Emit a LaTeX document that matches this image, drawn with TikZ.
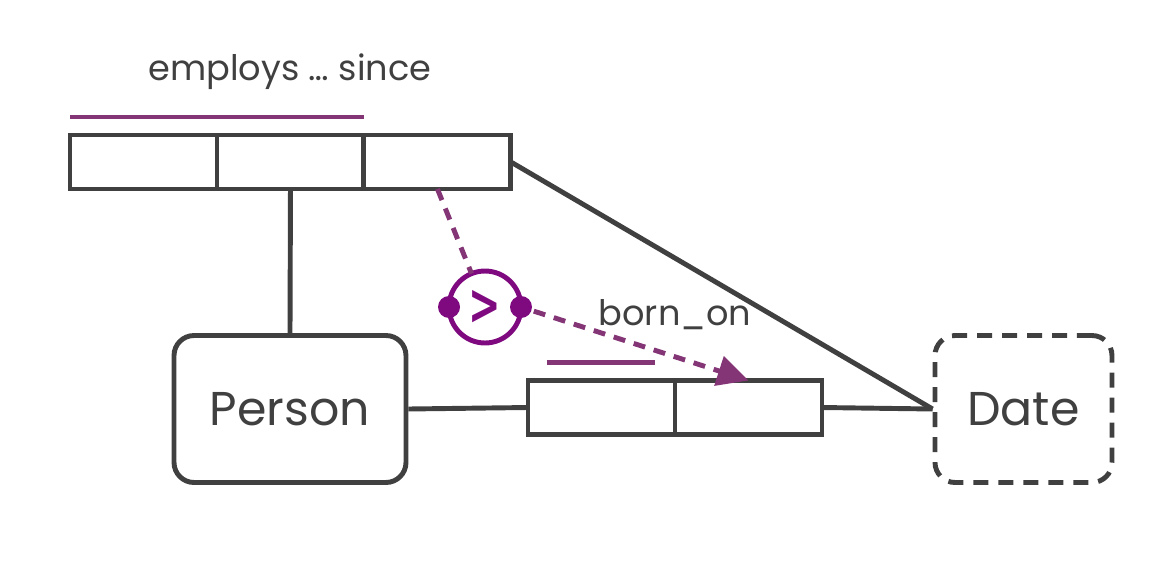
\documentclass[tikz,border=0pt]{standalone}
\usepackage{fontspec}
\setmainfont{Poppins}
\newfontfamily\gtfont{DejaVu Sans}
\usepackage{tikz}
\usetikzlibrary{shapes,arrows.meta,positioning}
\definecolor{ink}{HTML}{404040}
\definecolor{cons}{HTML}{833575}
\definecolor{subs}{HTML}{7F0A80}

\begin{document}
\begin{tikzpicture}[x=0.02cm, y=-0.02cm, line width=2.8pt, color=ink]
  \tikzstyle{role} = [rectangle, minimum width=2.94cm, minimum height=1.08cm, inner sep=0pt, outer sep=0pt, draw=ink]
  \tikzstyle{entity} = [rectangle, rounded corners=0.4cm, minimum width=4.64cm, minimum height=2.94cm, draw=ink, font=\fontsize{27}{30}\selectfont]
  \tikzstyle{value} = [entity, minimum width=3.54cm, dash pattern=on 0.3cm off 0.2cm]
  \tikzstyle{uniq} = [cons, line width=2.8pt]
  \tikzstyle{ring} = [circle, minimum size=1.44cm, inner sep=0pt, outer sep=0pt, draw=subs, text=subs, font=\gtfont\bfseries\fontsize{26}{26}\selectfont]
  \tikzstyle{dot} = [circle, fill=subs, minimum size=0.44cm, inner sep=0pt]
  \tikzstyle{dasharrow} = [cons, dash pattern=on 0.24cm off 0.18cm]
  \tikzstyle{fname} = [font=\fontsize{20}{24}\selectfont, text=ink]
  \useasboundingbox (0,0) rectangle (1174,582);
  % employs ... since
  \node (r1) [role] at (143.5,162) {};
  \node (r2) [role, right=0pt of r1] {};
  \node (r3) [role, right=0pt of r2] {};
  \node (emp) [fname] at (290,72) {employs \dots\ since};
  \draw [uniq] ([yshift=0.36cm]r1.north west) -- ([yshift=0.36cm]r2.north east);
  % born_on
  \node (b1) [role] at (601.5,407.5) {};
  \node (b2) [role, right=0pt of b1] {};
  \node (born) [fname] at (675,315) {born\_on};
  \draw [uniq] ([xshift=0.38cm, yshift=0.36cm]b1.north west) -- ([xshift=-0.4cm, yshift=0.36cm]b1.north east);
  % object types
  \node (p) [entity] at (290,409) {Person};
  \node (d) [value] at (1023.5,409) {Date};
  \draw (r2.south) -- (p.north);
  \draw (p.east) -- (b1.west);
  \draw (b2.east) -- (d.west);
  \draw (r3.east) -- (d.west);
  % subset constraint
  \node (c) [ring] at (485,307) {\scalebox{0.85}[1.25]{>}};
  \node (cl) [dot] at (c.west) {};
  \node (cr) [dot] at (c.east) {};
  \draw [dasharrow] (r3.south) -- (c);
  \draw [dasharrow, -{Triangle[length=0.62cm, width=0.6cm]}] (cr) -- (b2.north);
\end{tikzpicture}
\end{document}
